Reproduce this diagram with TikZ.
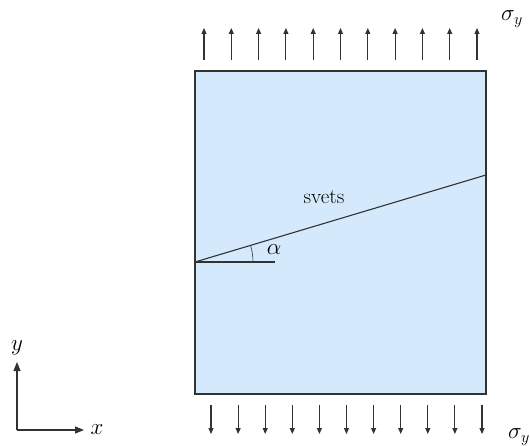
\RequirePackage{fix-cm}
\documentclass[tikz,border=0pt]{standalone}
\usetikzlibrary{arrows.meta}
\definecolor{platefill}{RGB}{212,234,252}
\definecolor{edge}{RGB}{50,50,50}
\begin{document}
\begin{tikzpicture}[x=1pt,y=-1pt,
  lbl/.style={inner sep=0pt,font=\fontsize{21}{25}\selectfont},
  mlbl/.style={inner sep=0pt,font=\fontsize{23}{27}\selectfont},
  load/.style={-{Triangle[length=6pt,width=5pt]},line width=1.1pt,edge},
  axis/.style={-{Triangle[length=9pt,width=7pt]},line width=1.1pt,edge}]
\useasboundingbox (0,0) rectangle (530,446);
\coordinate (TL) at (195,71);
\coordinate (BR) at (486,394);
\draw[fill=platefill,draw=edge,line width=1.4pt] (TL) rectangle (BR);
% top loads
\foreach \i in {0,...,10}{
  \coordinate (ts\i) at ({204+27.3*\i},60);
  \coordinate (te\i) at ({204+27.3*\i},28);
  \draw[load] (ts\i) -- (te\i);
}
% bottom loads
\foreach \i in {0,...,10}{
  \coordinate (bs\i) at ({211+27.1*\i},405);
  \coordinate (be\i) at ({211+27.1*\i},434);
  \draw[load] (bs\i) -- (be\i);
}
\node[mlbl] (sigt) at (512,19) {$\sigma_y$};
\node[mlbl] (sigb) at (519,437) {$\sigma_y$};
% weld
\coordinate (wl) at (195,262);
\coordinate (wr) at (486,175);
\coordinate (hz) at (275,262);
\draw[line width=1.1pt,edge] (wl) -- (wr);
\draw[line width=1.1pt,edge] (wl) -- (hz);
\draw[line width=0.6pt,edge] (253,262) arc[start angle=0,end angle=-16.6,radius=58];
\node[mlbl] (alpha) at (274,250) {$\alpha$};
\node[lbl] (svets) at (324,197) {svets};
% axes
\coordinate (O) at (17,430);
\coordinate (Y) at (17,362);
\coordinate (X) at (84,430);
\draw[axis] (O) -- (Y);
\draw[axis] (O) -- (X);
\node[mlbl] (ylab) at (17,348) {$y$};
\node[mlbl] (xlab) at (97,430) {$x$};
\end{tikzpicture}
\end{document}
